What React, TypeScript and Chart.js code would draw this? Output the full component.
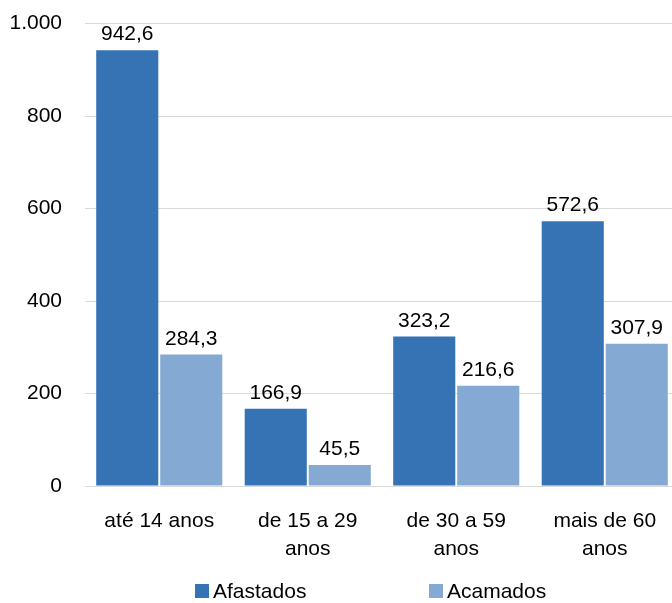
import React, { useEffect, useRef } from "react";
import { Chart, registerables } from "chart.js";

Chart.register(...registerables);

const categories: (string | string[])[] = [
  "até 14 anos",
  ["de 15 a 29", "anos"],
  ["de 30 a 59", "anos"],
  ["mais de 60", "anos"],
];
const afastados = [942.6, 166.9, 323.2, 572.6];
const acamados = [284.3, 45.5, 216.6, 307.9];
const seriesNames = ["Afastados", "Acamados"];
const seriesColors = ["#3673B5", "#84A9D2"];
const yTicks = [0, 200, 400, 600, 800, 1000];

const FONT = "'Liberation Sans', Arial, sans-serif";

const fmtLabel = (v: number) => v.toFixed(1).replace(".", ",");
const fmtTick = (v: number) => (v >= 1000 ? (v / 1000).toFixed(0) + "." + String(v % 1000).padStart(3, "0") : String(v));

const dataLabels = {
  id: "dataLabels",
  afterDatasetsDraw(chart: any) {
    const ctx = chart.ctx;
    ctx.save();
    ctx.font = `21px ${FONT}`;
    ctx.fillStyle = "#000";
    ctx.textAlign = "center";
    ctx.textBaseline = "alphabetic";
    chart.data.datasets.forEach((ds: any, i: number) => {
      const meta = chart.getDatasetMeta(i);
      meta.data.forEach((bar: any, j: number) => {
        ctx.fillText(fmtLabel(ds.data[j]), bar.x, bar.y - 10);
      });
    });
    ctx.restore();
  },
};

export default function App() {
  const ref = useRef<HTMLCanvasElement>(null);
  useEffect(() => {
    if (!ref.current) return;
    const chart = new Chart(ref.current, {
      type: "bar",
      data: {
        labels: categories,
        datasets: [
          { label: seriesNames[0], data: afastados, backgroundColor: seriesColors[0] },
          { label: seriesNames[1], data: acamados, backgroundColor: seriesColors[1] },
        ],
      },
      options: {
        responsive: false,
        animation: false,
        layout: { padding: { top: 10, right: 0, left: 0, bottom: 0 } },
        datasets: { bar: { categoryPercentage: 0.862, barPercentage: 0.97 } } as any,
        plugins: { legend: { display: false }, tooltip: { enabled: false } },
        scales: {
          x: {
            grid: { display: false },
            border: { display: true, color: "#D9D9D9", width: 1 },
            ticks: {
              color: "#000",
              font: { family: FONT, size: 21, lineHeight: 1.3 },
              padding: 14,
              maxRotation: 0,
              autoSkip: false,
            },
            afterFit: (s: any) => {
              s.height = 117;
            },
          },
          y: {
            min: 0,
            max: 1000,
            afterBuildTicks: (s: any) => {
              s.ticks = yTicks.map((v) => ({ value: v }));
            },
            grid: { color: "#D9D9D9", lineWidth: 1, drawTicks: false },
            border: { display: false },
            ticks: {
              color: "#000",
              font: { family: FONT, size: 21 },
              padding: 23,
              callback: (v: any) => fmtTick(Number(v)),
            },
            afterFit: (s: any) => {
              s.width = 85;
            },
          },
        },
      },
      plugins: [dataLabels],
    });
    return () => chart.destroy();
  }, []);

  const legendItem = (i: number, left: number) => (
    <div
      key={i}
      style={{
        position: "absolute",
        left,
        top: 579,
        display: "flex",
        alignItems: "center",
        fontFamily: FONT,
        fontSize: 21,
        color: "#000",
        lineHeight: "24px",
      }}
    >
      <span style={{ display: "inline-block", width: 14, height: 14, background: seriesColors[i], marginRight: 4 }} />
      <span>{seriesNames[i]}</span>
    </div>
  );

  return (
    <div style={{ position: "fixed", left: 0, top: 0, width: 672, height: 603, background: "#fff", overflow: "hidden" }}>
      <canvas ref={ref} width={679} height={615} style={{ position: "absolute", left: 0, top: -12 }} />
      {legendItem(0, 195)}
      {legendItem(1, 429)}
    </div>
  );
}
